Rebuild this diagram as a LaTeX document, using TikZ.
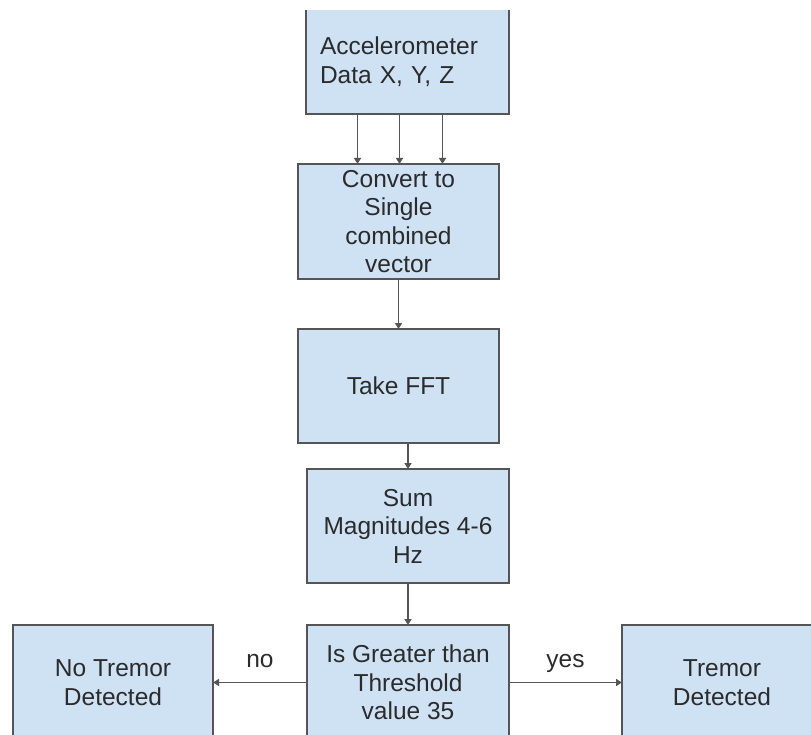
\documentclass[tikz,border=0pt]{standalone}
\usepackage{fontspec}
\setmainfont{Liberation Sans}
\usetikzlibrary{positioning,arrows.meta}
\definecolor{boxfill}{HTML}{CFE2F3}
\definecolor{edge}{HTML}{555555}
\definecolor{ink}{HTML}{2B2B2B}
\begin{document}
\begin{tikzpicture}[x=1pt, y=-1pt, line width=1.5pt, outer sep=0pt,
    main/.style = {draw=edge, fill=boxfill, text=ink, align=center, inner sep=2pt,
      minimum width=201pt, minimum height=115pt, font=\fontsize{24.5}{28.5}\selectfont},
    arr/.style = {draw=edge, -{Triangle[length=6pt, width=7pt]}},
    lbl/.style = {text=ink, anchor=base, yshift=15pt, font=\fontsize{24.5}{28.5}\selectfont}]
    \useasboundingbox (0,0) rectangle (811,735);
    \clip (0,10.5) rectangle (811,735);
    \node[main, minimum width=203pt, minimum height=105pt, text width=175pt, align=left] (1) at (407.5,61.5) {Accelerometer\\Data X, Y, Z};
    \node[main] (2) [below=50pt of 1, xshift=-9pt] {Convert to\\Single\\combined\\vector};
    \node[main, minimum height=114pt] (3) [below=50pt of 2] {Take FFT};
    \node[main, minimum width=202pt, minimum height=114pt] (4) [below=26pt of 3, xshift=9.5pt] {Sum\\Magnitudes 4-6\\Hz};
    \node[main, minimum width=202pt] (5) [below=42pt of 4] {Is Greater than\\Threshold\\value 35};
    \node[main, minimum width=200pt] (6) [left=94pt of 5] {No Tremor\\Detected};
    \node[main, minimum width=200pt] (7) [right=113pt of 5] {Tremor\\Detected};
    \draw[arr] ([xshift=-50pt]1.south) -- ([xshift=-50pt]1.south |- 2.north);
    \draw[arr] ([xshift=-8pt]1.south) -- ([xshift=-8pt]1.south |- 2.north);
    \draw[arr] ([xshift=35pt]1.south) -- ([xshift=35pt]1.south |- 2.north);
    \draw[arr] (2) -- (3);
    \draw[arr] (3.south -| 4.north) -- (4.north);
    \draw[arr] (4) -- (5);
    \draw[arr] (5) -- node[lbl, pos=0.5] {no} (6);
    \draw[arr] (5) -- node[lbl, pos=0.5] {yes} (7);
\end{tikzpicture}
\end{document}
